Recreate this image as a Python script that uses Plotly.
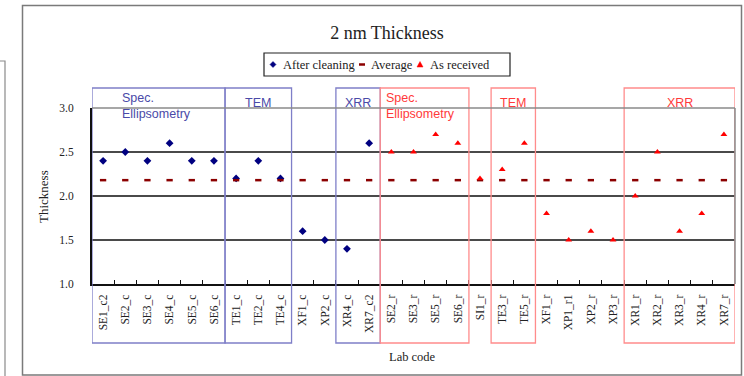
import plotly.graph_objects as go

categories = ["SE1_c2", "SE2_c", "SE3_c", "SE4_c", "SE5_c", "SE6_c", "TE1_c", "TE2_c", "TE4_c",
              "XF1_c", "XP2_c", "XR4_c", "XR7_c2", "SE2_r", "SE3_r", "SE5_r", "SE6_r", "SI1_r",
              "TE3_r", "TE5_r", "XF1_r", "XP1_r1", "XP2_r", "XP3_r", "XR1_r", "XR2_r", "XR3_r",
              "XR4_r", "XR7_r"]

cleaned_cats = categories[:13]
cleaned_vals = [2.4, 2.5, 2.4, 2.6, 2.4, 2.4, 2.2, 2.4, 2.2, 1.6, 1.5, 1.4, 2.6]

received_cats = categories[13:]
received_vals = [2.5, 2.5, 2.7, 2.6, 2.2, 2.3, 2.6, 1.8, 1.5, 1.6, 1.5, 2.0, 2.5, 1.6, 1.8, 2.7]

average_val = 2.18
average_vals = [average_val] * len(categories)

series_names = ["After cleaning", "Average", "As received"]
series_colors = ["#000080", "#8b0000", "#ff0000"]

# group boxes: (first index, last index, label, colour group)
groups = [
    (0, 5, "Spec.<br>Ellipsometry", "blue"),
    (6, 8, "TEM", "blue"),
    (11, 12, "XRR", "blue"),
    (13, 16, "Spec.<br>Ellipsometry", "red"),
    (18, 19, "TEM", "red"),
    (24, 28, "XRR", "red"),
]

W, H = 744, 376
L, R, T, B = 92, 9, 108, 92
pw, ph = W - L - R, H - T - B

def px(xp):
    return (xp - L) / pw

def py(yp):
    return (H - B - yp) / ph

serif = "Liberation Serif"
sans = "Liberation Sans"

fig = go.Figure()
fig.add_trace(go.Scatter(x=cleaned_cats, y=cleaned_vals, mode="markers", name=series_names[0],
                         marker=dict(symbol="diamond", size=6, color=series_colors[0])))
fig.add_trace(go.Scatter(x=categories, y=average_vals, mode="markers", name=series_names[1],
                         marker=dict(symbol="line-ew", size=4.5, color=series_colors[1],
                                     line=dict(color=series_colors[1], width=2.5))))
fig.add_trace(go.Scatter(x=received_cats, y=received_vals, mode="markers", name=series_names[2],
                         marker=dict(symbol="triangle-up", size=6, color=series_colors[2])))

shapes = []
annotations = []
col = {"blue": ("#7f7fc8", "#4a4aa8"), "red": ("#ff8c8c", "#ff3a3a")}
for a, b, label, g in groups:
    edge, txt = col[g]
    shapes.append(dict(type="rect", xref="x", yref="paper", x0=a - 0.5, x1=b + 0.5,
                       y0=py(343), y1=py(88), line=dict(color=edge, width=1.3), layer="above"))
    if "Spec" in label:
        annotations.append(dict(xref="x", yref="paper", x=a - 0.5, xshift=(28 if g == "blue" else 4),
                                y=py(89), xanchor="left", yanchor="top", align="left", showarrow=False,
                                text=label, font=dict(family=sans, size=12.5, color=txt)))
    else:
        annotations.append(dict(xref="x", yref="paper", x=(a + b) / 2, y=py(103),
                                xanchor="center", yanchor="middle", showarrow=False,
                                text=label, font=dict(family=sans, size=12.5, color=txt)))

# plot area top/right border (light gray)
shapes.append(dict(type="line", xref="paper", yref="paper", x0=0, x1=1, y0=1, y1=1,
                   line=dict(color="#8a8a8a", width=1.5), layer="above"))
shapes.append(dict(type="line", xref="paper", yref="paper", x0=1, x1=1, y0=0, y1=1,
                   line=dict(color="#8a8a8a", width=1.5), layer="above"))
# outer chart frame
shapes.append(dict(type="rect", xref="paper", yref="paper", x0=px(22.5), x1=px(741.5),
                   y0=py(375), y1=py(5.5), line=dict(color="#7a7a7a", width=1.5), layer="below"))
# partial neighbouring frame at far left
shapes.append(dict(type="rect", xref="paper", yref="paper", x0=px(-20), x1=px(5),
                   y0=py(390), y1=py(61), line=dict(color="#8a8a8a", width=1.2), layer="below"))

# manual legend (compact, like the original)
shapes.append(dict(type="rect", xref="paper", yref="paper", x0=px(264), x1=px(510),
                   y0=py(76), y1=py(53), line=dict(color="#222", width=1.2),
                   fillcolor="white", layer="below"))
ly = 64.5
def path(points):
    return "M " + " L ".join(f"{px(a)},{py(b)}" for a, b in points) + " Z"
shapes.append(dict(type="path", xref="paper", yref="paper",
                   path=path([(273, ly - 3), (276, ly), (273, ly + 3), (270, ly)]),
                   fillcolor=series_colors[0], line=dict(color=series_colors[0], width=0.5)))
shapes.append(dict(type="line", xref="paper", yref="paper", x0=px(359), x1=px(365), y0=py(ly), y1=py(ly),
                   line=dict(color=series_colors[1], width=2.5)))
shapes.append(dict(type="path", xref="paper", yref="paper",
                   path=path([(420, ly - 3), (423, ly + 2.5), (417, ly + 2.5)]),
                   fillcolor=series_colors[2], line=dict(color=series_colors[2], width=0.5)))
for xs, name in zip([281, 369, 428], series_names):
    annotations.append(dict(xref="paper", yref="paper", x=px(xs), y=py(ly), xanchor="left",
                            yanchor="middle", showarrow=False, text=name,
                            font=dict(family=serif, size=12.5, color="#222")))

annotations.append(dict(xref="paper", yref="paper", x=px(43), y=py(197), textangle=-90,
                        xanchor="center", yanchor="middle",
                        showarrow=False, text="Thickness",
                        font=dict(family=serif, size=13, color="#222")))
annotations.append(dict(xref="paper", yref="paper", x=px(412), y=py(357),
                        xanchor="center", yanchor="middle",
                        showarrow=False, text="Lab code",
                        font=dict(family=serif, size=12.5, color="#222")))

fig.update_layout(
    width=W, height=H,
    margin=dict(l=L, r=R, t=T, b=B, autoexpand=False),
    paper_bgcolor="white", plot_bgcolor="white",
    title=dict(text="2 nm Thickness", x=px(387), xanchor="center", xref="paper",
               y=1 - 33 / H, yref="container", yanchor="middle",
               font=dict(family=serif, size=18, color="#222")),
    showlegend=False,
    xaxis=dict(type="category", categoryorder="array", categoryarray=categories,
               range=[-0.5, len(categories) - 0.5], showgrid=False,
               showline=True, linecolor="#111", linewidth=2,
               ticks="inside", tickson="boundaries", ticklen=4, tickcolor="#111",
               tickangle=-90, ticklabelstandoff=4,
               tickfont=dict(family=serif, size=11.5, color="#222")),
    yaxis=dict(range=[1.0, 3.0], tickvals=[1.0, 1.5, 2.0, 2.5, 3.0],
               ticktext=["1.0", "1.5", "2.0", "2.5", "3.0"],
               showgrid=True, gridcolor="#4a4a4a", gridwidth=1.5,
               showline=True, linecolor="#111", linewidth=2, zeroline=False,
               ticks="", ticklabelstandoff=14,
               tickfont=dict(family=serif, size=11.5, color="#222")),
    shapes=shapes, annotations=annotations,
)

fig.write_html("out.html")
